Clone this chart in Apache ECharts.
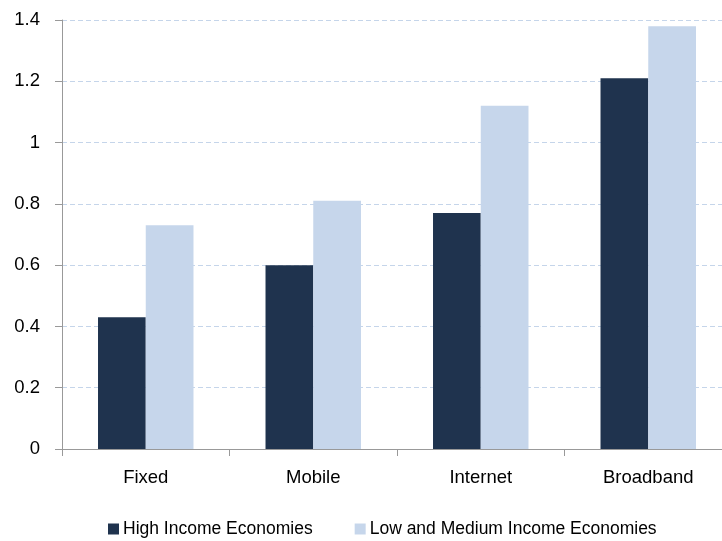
<!DOCTYPE html>
<html>
<head>
<meta charset="utf-8">
<script src="https://cdn.jsdelivr.net/npm/echarts@6/dist/echarts.min.js"></script>
<style>html,body{margin:0;padding:0;background:#fff;overflow:hidden;width:722px;height:541px}#c{width:732px;height:541px}</style>
</head>
<body>
<div id="c"></div>
<script>
const categories = ['Fixed', 'Mobile', 'Internet', 'Broadband'];
const highIncome = [0.43, 0.60, 0.77, 1.21];
const lowMediumIncome = [0.73, 0.81, 1.12, 1.38];
const seriesNames = ['High Income Economies', 'Low and Medium Income Economies'];
const yTicks = { min: 0, max: 1.4, interval: 0.2 };

const font = '"Liberation Sans", Arial, sans-serif';
const chart = echarts.init(document.getElementById('c'), null, { renderer: 'canvas' });
chart.setOption({
  animation: false,
  backgroundColor: '#ffffff',
  textStyle: { fontFamily: font },
  legend: {
    top: 520,
    left: 108,
    padding: 0,
    itemWidth: 11,
    itemHeight: 11,
    itemGap: 42,
    icon: 'rect',
    textStyle: { fontFamily: font, fontSize: 17.5, color: '#000', padding: [0, 0, 0, -1] },
    data: seriesNames
  },
  grid: { left: 62, top: 20, right: 0, bottom: 92 },
  xAxis: {
    type: 'category',
    data: categories,
    axisLine: { lineStyle: { color: '#999999', width: 1 } },
    axisTick: { show: true, length: 7, alignWithLabel: false, lineStyle: { color: '#999999' } },
    axisLabel: { fontFamily: font, fontSize: 18.5, color: '#000', margin: 19 }
  },
  yAxis: {
    type: 'value',
    min: yTicks.min,
    max: yTicks.max,
    interval: yTicks.interval,
    axisLine: { show: true, lineStyle: { color: '#999999', width: 1 } },
    axisTick: { show: true, length: 7, lineStyle: { color: '#999999' } },
    axisLabel: { fontFamily: font, fontSize: 18.5, color: '#000', margin: 22,
      formatter: v => String(Math.round(v * 10) / 10) },
    splitLine: { show: true, lineStyle: { color: '#c5d5ea', type: [5, 3], width: 1 } }
  },
  series: [
    { name: seriesNames[0], type: 'bar', data: highIncome, barGap: '0%', barCategoryGap: '43%',
      itemStyle: { color: '#1f334e' } },
    { name: seriesNames[1], type: 'bar', data: lowMediumIncome,
      itemStyle: { color: '#c6d6eb' } }
  ]
});
</script>
</body>
</html>
